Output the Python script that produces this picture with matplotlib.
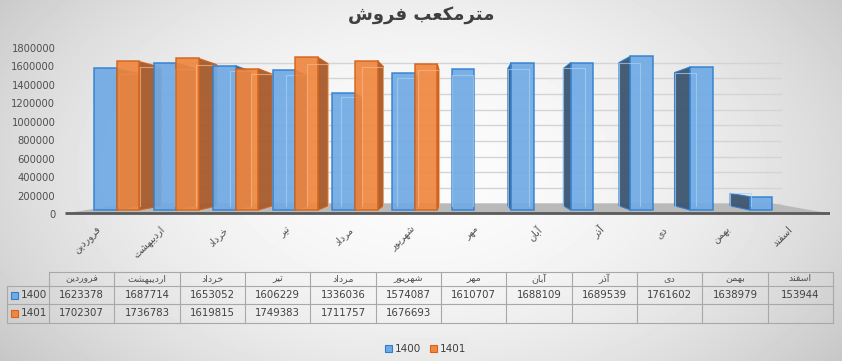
import numpy as np
import matplotlib
matplotlib.use('Agg')
import matplotlib.pyplot as plt
from matplotlib.transforms import blended_transform_factory

# ---------------- data ----------------
title_text = 'مترمکعب فروش'
months = ['فروردین', 'اردیبهشت', 'خرداد', 'تیر', 'مرداد', 'شهریور',
          'مهر', 'آبان', 'آذر', 'دی', 'بهمن', 'اسفند']
series_names = ['1400', '1401']
vals_1400 = [1623378, 1687714, 1653052, 1606229, 1336036, 1574087,
             1610707, 1688109, 1689539, 1761602, 1638979, 153944]
vals_1401 = [1702307, 1736783, 1619815, 1749383, 1711757, 1676693,
             None, None, None, None, None, None]
yticks = [0, 200000, 400000, 600000, 800000, 1000000, 1200000, 1400000, 1600000, 1800000]

# ---------------- simple Persian shaping for display ----------------
FORMS = {
    'ا': ('\uFE8D', '\uFE8E', None, None),
    'آ': ('\uFE81', '\uFE82', None, None),
    'د': ('\uFEA9', '\uFEAA', None, None),
    'ذ': ('\uFEAB', '\uFEAC', None, None),
    'ر': ('\uFEAD', '\uFEAE', None, None),
    'و': ('\uFEED', '\uFEEE', None, None),
    'ب': ('\uFE8F', '\uFE90', '\uFE91', '\uFE92'),
    'ت': ('\uFE95', '\uFE96', '\uFE97', '\uFE98'),
    'خ': ('\uFEA5', '\uFEA6', '\uFEA7', '\uFEA8'),
    'س': ('\uFEB1', '\uFEB2', '\uFEB3', '\uFEB4'),
    'ش': ('\uFEB5', '\uFEB6', '\uFEB7', '\uFEB8'),
    'ع': ('\uFEC9', '\uFECA', '\uFECB', '\uFECC'),
    'ف': ('\uFED1', '\uFED2', '\uFED3', '\uFED4'),
    'م': ('\uFEE1', '\uFEE2', '\uFEE3', '\uFEE4'),
    'ن': ('\uFEE5', '\uFEE6', '\uFEE7', '\uFEE8'),
    'ه': ('\uFEE9', '\uFEEA', '\uFEEB', '\uFEEC'),
    'ی': ('\uFBFC', '\uFBFD', '\uFBFE', '\uFBFF'),
    'ک': ('\uFB8E', '\uFB8F', '\uFB90', '\uFB91'),
}


def fa(s):
    out = []
    for i, c in enumerate(s):
        f = FORMS.get(c)
        if f is None:
            out.append(c)
            continue
        prev = s[i - 1] if i > 0 else ''
        nxt = s[i + 1] if i + 1 < len(s) else ''
        cp = prev in FORMS and FORMS[prev][2] is not None
        cn = f[2] is not None and nxt in FORMS
        if cp and cn:
            out.append(f[3])
        elif cp:
            out.append(f[1])
        elif cn:
            out.append(f[2])
        else:
            out.append(f[0])
    return ''.join(reversed(out))


plt.rcParams['font.family'] = ['DejaVu Sans']

W, H = 842, 361
fig = plt.figure(figsize=(W / 100, H / 100), dpi=100)

# ---------------- background gradient ----------------
bg = fig.add_axes([0, 0, 1, 1], zorder=-10)
yy, xx = np.mgrid[0:H, 0:W]
d2 = ((xx - 421) / 421.0) ** 2 + ((yy - 170) / 260.0) ** 2
grad = np.clip(0.985 - 0.135 * d2, 0, 1)
bg.imshow(grad, cmap='gray', vmin=0, vmax=1, extent=(0, W, H, 0), aspect='auto',
          interpolation='bilinear')
bg.set_xlim(0, W)
bg.set_ylim(H, 0)
bg.axis('off')


def fx(px):
    return px / W


def fy(py):
    return 1 - py / H


# ---------------- main 3D-like axes ----------------
AX_L, AX_R, AX_T, AX_B = 65, 830, 40, 220
pos = [fx(AX_L), fy(AX_B), fx(AX_R) - fx(AX_L), fy(AX_T) - fy(AX_B)]
ax = fig.add_axes(pos, zorder=1)
ax.patch.set_alpha(0)
XC0, XS = 116.6, 59.6          # px of first group centre, px per category
Y0, YS = 210.0, 17.45 / 200000  # px of zero, px per unit
ax.set_xlim((AX_L - XC0) / XS, (AX_R - XC0) / XS)
ax.set_ylim(-(AX_B - Y0) / YS, (Y0 - AX_T) / YS)
ax.axis('off')

bw = 0.38
vx, vy = 6 - bw / 2, 700000.0   # vanishing point (data units)
k = 0.068                        # bar depth
kw = 0.10                        # back wall
kf = 0.157                       # floor depth

x_lo, x_hi = ax.get_xlim()
# floor
f0 = -40000
fl = [(x_lo, f0), (x_hi, f0),
      (x_hi + kf * (vx - x_hi), f0 + kf * (vy - f0)),
      (x_lo + kf * (vx - x_lo), f0 + kf * (vy - f0))]
ax.fill([p[0] for p in fl], [p[1] for p in fl], color='#b9b9b9', zorder=0.5, lw=0)
ax.plot([x_lo, x_hi], [f0, f0], color='#5a5a5a', lw=2, zorder=0.6, solid_capstyle='butt')

# back wall gridlines
for t in yticks:
    yb = t + kw * (vy - t)
    xa = x_lo + kw * (vx - x_lo) + 0.35
    xb = x_hi + kw * (vx - x_hi) - 0.2
    ax.plot([xa, xb], [yb, yb], color='#d4d4d4', lw=1.0, zorder=0.3)

styles = [
    dict(face='#6faae4', edge='#2f7fd0', side='#3d5570', inner='#a9d0f5'),
    dict(face='#f0873f', edge='#d5631a', side='#a65a2c', inner='#f7b68a'),
]
for si, vals in enumerate([vals_1400, vals_1401]):
    st = styles[si]
    for i, v in enumerate(vals):
        if v is None:
            continue
        xc = i + (si - 0.5) * bw
        xl, xr = xc - bw / 2, xc + bw / 2
        z = 10 - abs(xc - vx) * 0.5 + si * 0.01
        # side face
        e = None
        if xr < vx - 1e-6:
            e = xr
        elif xl > vx + 1e-6:
            e = xl
        if e is not None:
            eb = e + k * (vx - e)
            sx = [e, e, eb, eb]
            sy = [0, v, v + k * (vy - v), k * vy]
            ax.fill(sx, sy, facecolor=st['side'], edgecolor=st['edge'], lw=0.8,
                    alpha=0.95, zorder=z - 0.05)
        # front face
        ax.bar(xc, v, width=bw, color=st['face'], edgecolor=st['edge'], lw=1.1,
               alpha=0.92, zorder=z)
        # back edges seen through the translucent face
        bl = xl + k * (vx - xl)
        br = xr + k * (vx - xr)
        bt = v + k * (vy - v)
        bb = k * vy
        ax.plot([bl, bl, br, br], [bb, bt, bt, bb], color=st['inner'], lw=0.8,
                alpha=0.7, zorder=z + 0.02)

# category labels (perspective-spread along the floor front)
tr = blended_transform_factory(ax.transData, fig.transFigure)
for i, m in enumerate(months):
    lx = -0.28 + 1.055 * i
    ax.text(lx, fy(228), fa(m), transform=tr, rotation=45, rotation_mode='anchor',
            ha='right', va='center', fontsize=7, color='#505050')

# y tick labels (on the back wall scale)
axt = fig.add_axes(pos, zorder=0.5)
axt.patch.set_alpha(0)
ts = 166.0 / 1800000
axt.set_ylim(-(AX_B - 214) / ts, (214 - AX_T) / ts)
axt.set_xlim(0, 1)
axt.set_yticks(yticks)
axt.set_yticklabels([str(t) for t in yticks], fontsize=7.2, color='#505050')
axt.tick_params(axis='y', length=0, pad=7)
axt.set_xticks([])
for s in axt.spines.values():
    s.set_visible(False)

# ---------------- title ----------------
fig.text(0.5, fy(15), fa(title_text), ha='center', va='center', fontsize=13,
         fontweight='bold', color='#404040')

# ---------------- data table ----------------
ov = fig.add_axes([0, 0, 1, 1], zorder=2)
ov.patch.set_alpha(0)
ov.set_xlim(0, W)
ov.set_ylim(H, 0)
ov.axis('off')
lc = '#a8a8a8'
c0, cw = 49.0, (833.0 - 49.0) / 12
rows_y = [272, 286, 304, 323]
ov.plot([c0, c0 + 12 * cw], [rows_y[0], rows_y[0]], color=lc, lw=0.8)
for yv in rows_y[1:]:
    ov.plot([7, c0 + 12 * cw], [yv, yv], color=lc, lw=0.8)
ov.plot([7, 7], [rows_y[1], rows_y[3]], color=lc, lw=0.8)
for j in range(13):
    xj = c0 + j * cw
    ov.plot([xj, xj], [rows_y[0], rows_y[3]], color=lc, lw=0.8)
for j, m in enumerate(months):
    ov.text(c0 + (j + 0.5) * cw, 278.5, fa(m), ha='center', va='center',
            fontsize=6.8, color='#505050')
for r, (vals, st) in enumerate(zip([vals_1400, vals_1401], styles)):
    ycen = (rows_y[r + 1] + rows_y[r + 2]) / 2
    for j, v in enumerate(vals):
        if v is None:
            continue
        ov.text(c0 + (j + 0.5) * cw, ycen, str(v), ha='center', va='center',
                fontsize=7.3, color='#404040')
    ov.add_patch(plt.Rectangle((11, ycen - 3.5), 7, 7, facecolor=st['face'],
                               edgecolor=st['edge'], lw=0.8))
    ov.text(21, ycen, series_names[r], ha='left', va='center', fontsize=7.5,
            color='#404040')

# ---------------- legend ----------------
ov.add_patch(plt.Rectangle((376, 337), 91, 24, facecolor='#ebebeb', edgecolor='none',
                           alpha=0.8))
lx0 = 385
for r, st in enumerate(styles):
    xm = lx0 + r * 45
    ov.add_patch(plt.Rectangle((xm, 345), 7, 7, facecolor=st['face'],
                               edgecolor=st['edge'], lw=0.8))
    ov.text(xm + 9.5, 348.5, series_names[r], ha='left', va='center', fontsize=7.5,
            color='#404040')

fig.savefig('out.png', dpi=100)
